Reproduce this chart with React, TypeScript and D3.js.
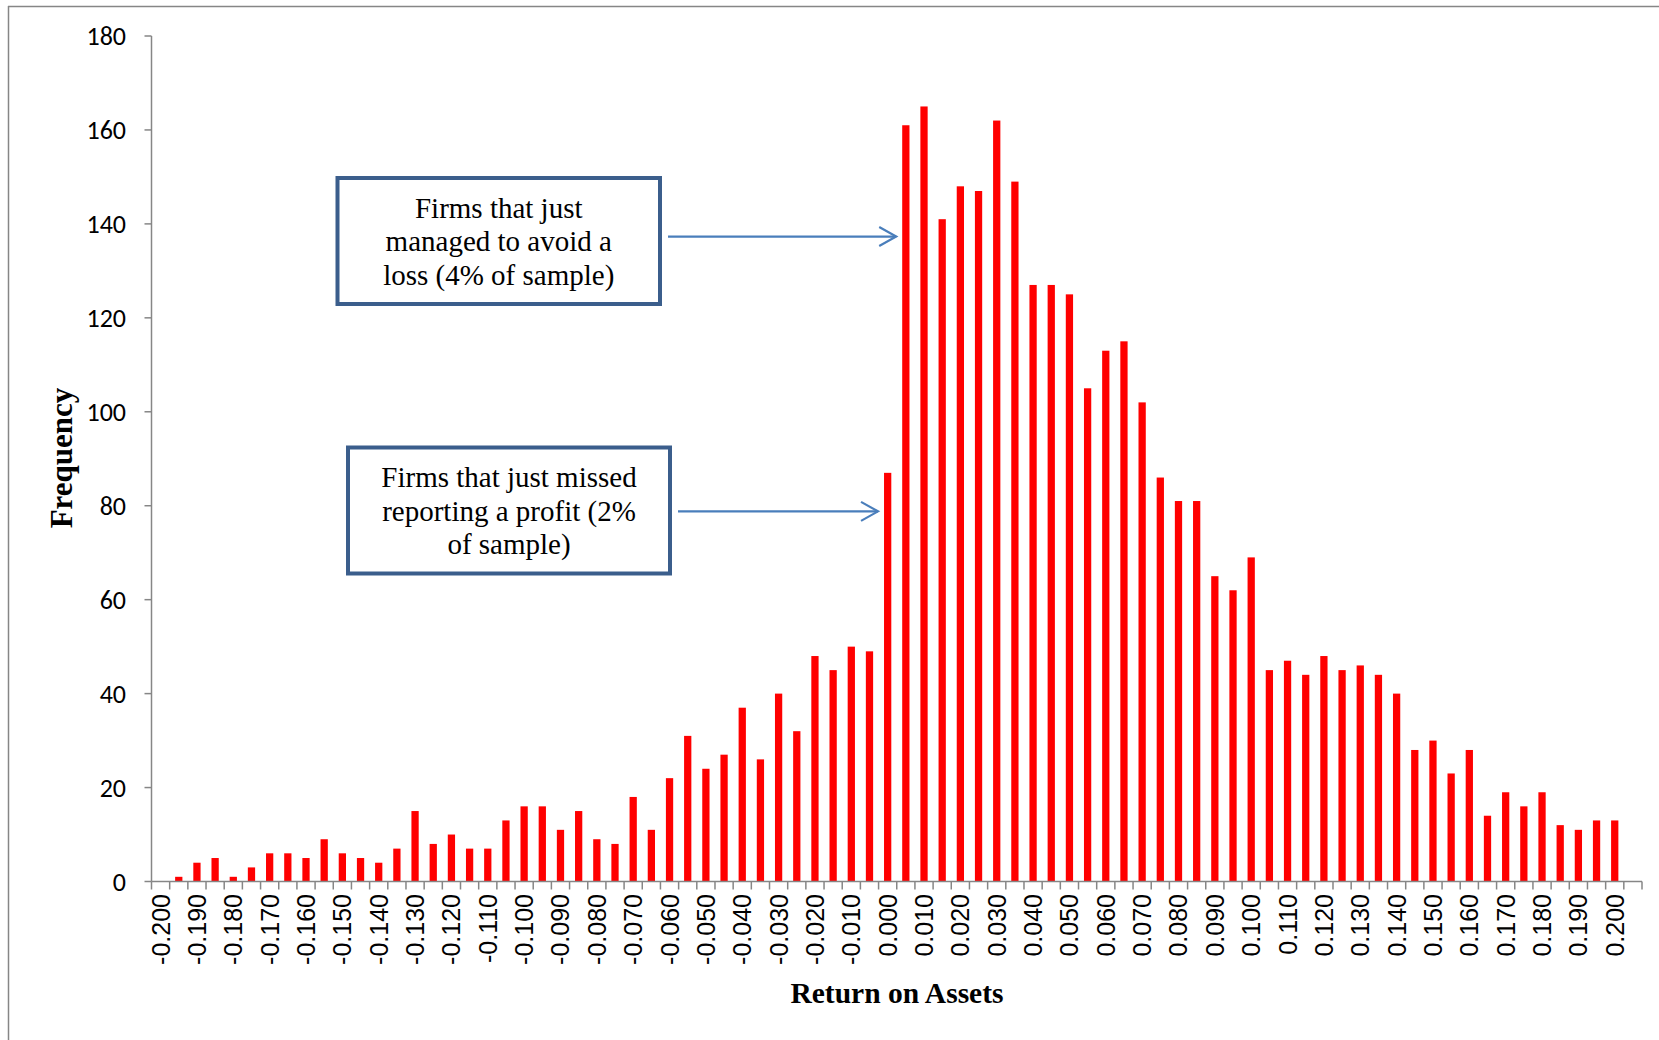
import React from "react";
import * as d3 from "d3";

const bins: string[] = [
  "-0.200","-0.195","-0.190","-0.185","-0.180","-0.175","-0.170","-0.165","-0.160","-0.155",
  "-0.150","-0.145","-0.140","-0.135","-0.130","-0.125","-0.120","-0.115","-0.110","-0.105",
  "-0.100","-0.095","-0.090","-0.085","-0.080","-0.075","-0.070","-0.065","-0.060","-0.055",
  "-0.050","-0.045","-0.040","-0.035","-0.030","-0.025","-0.020","-0.015","-0.010","-0.005",
  "0.000","0.005","0.010","0.015","0.020","0.025","0.030","0.035","0.040","0.045",
  "0.050","0.055","0.060","0.065","0.070","0.075","0.080","0.085","0.090","0.095",
  "0.100","0.105","0.110","0.115","0.120","0.125","0.130","0.135","0.140","0.145",
  "0.150","0.155","0.160","0.165","0.170","0.175","0.180","0.185","0.190","0.195",
  "0.200","More",
];

const frequency: number[] = [
  0, 1, 4, 5, 1, 3, 6, 6, 5, 9,
  6, 5, 4, 7, 15, 8, 10, 7, 7, 13,
  16, 16, 11, 15, 9, 8, 18, 11, 22, 31,
  24, 27, 37, 26, 40, 32, 48, 45, 50, 49,
  87, 161, 165, 141, 148, 147, 162, 149, 127, 127,
  125, 105, 113, 115, 102, 86, 81, 81, 65, 62,
  69, 45, 47, 44, 48, 45, 46, 44, 40, 28,
  30, 23, 28, 14, 19, 16, 19, 12, 11, 13,
  13, 0,
];

const xTickLabels: string[] = [
  "-0.200","-0.190","-0.180","-0.170","-0.160","-0.150","-0.140","-0.130","-0.120","-0.110",
  "-0.100","-0.090","-0.080","-0.070","-0.060","-0.050","-0.040","-0.030","-0.020","-0.010",
  "0.000","0.010","0.020","0.030","0.040","0.050","0.060","0.070","0.080","0.090",
  "0.100","0.110","0.120","0.130","0.140","0.150","0.160","0.170","0.180","0.190","0.200",
];

const yTicks: number[] = [0, 20, 40, 60, 80, 100, 120, 140, 160, 180];

const annotations = [
  { lines: ["Firms that just", "managed to avoid a", "loss (4% of sample)"], target: "0.005", level: 137.3 },
  { lines: ["Firms that just missed", "reporting a profit (2%", "of sample)"], target: "0.000", level: 78.8 },
];

const W = 1659;
const H = 1040;
const AXIS = "#868686";

export default function App() {
  const x = d3.scaleBand<string>().domain(bins).range([151.5, 1642]).paddingInner(0.6).paddingOuter(0.3);
  const y = d3.scaleLinear().domain([0, 180]).range([881.5, 36]);
  const step = x.step();
  const x0 = 151.5;
  const boundaries = d3.range(bins.length + 1).map((k) => x0 + k * step);

  const boxes = [
    { x: 337.5, y: 178, w: 322.5, h: 126 },
    { x: 348, y: 447.5, w: 322, h: 126 },
  ];

  return (
    <svg
      width={W}
      height={H}
      style={{ position: "absolute", left: 0, top: 0, background: "#fff" }}
    >
      <rect x={0} y={0} width={W} height={H} fill="#fff" />
      {/* outer frame */}
      <line x1={8.5} y1={6} x2={8.5} y2={H} stroke={AXIS} strokeWidth={1.5} />
      <line x1={8} y1={6.5} x2={W} y2={6.5} stroke={AXIS} strokeWidth={1.5} />

      {/* bars */}
      {bins.map((b, i) => (
        <rect
          key={b}
          x={x(b)!}
          y={y(frequency[i])}
          width={x.bandwidth()}
          height={y(0) - y(frequency[i])}
          fill="#FF0000"
        />
      ))}

      {/* y axis */}
      <line x1={x0} y1={y(180)} x2={x0} y2={y(0)} stroke={AXIS} strokeWidth={1.5} />
      {yTicks.map((t) => (
        <g key={t}>
          <line x1={x0 - 7} x2={x0} y1={y(t)} y2={y(t)} stroke={AXIS} strokeWidth={1.5} />
          <text
            x={126}
            y={y(t)}
            textAnchor="end"
            dominantBaseline="central"
            fontFamily="Carlito, Calibri, 'Liberation Sans', sans-serif"
            fontSize={26}
            fill="#000"
          >
            {t}
          </text>
        </g>
      ))}

      {/* x axis */}
      <line x1={x0} y1={y(0)} x2={1642} y2={y(0)} stroke={AXIS} strokeWidth={1.5} />
      {boundaries.map((bx, k) => (
        <line key={k} x1={bx} x2={bx} y1={y(0)} y2={y(0) + 8} stroke={AXIS} strokeWidth={1.5} />
      ))}
      {xTickLabels.map((lab) => {
        const cx = x(lab)! + x.bandwidth() / 2;
        return (
          <text
            key={lab}
            transform={`translate(${cx},${894}) rotate(-90)`}
            textAnchor="end"
            dominantBaseline="central"
            fontFamily="'Liberation Sans', Arial, sans-serif"
            fontSize={25}
            fill="#000"
          >
            {lab}
          </text>
        );
      })}

      {/* axis titles */}
      <text
        transform={`translate(61,458) rotate(-90)`}
        textAnchor="middle"
        dominantBaseline="central"
        fontFamily="'Liberation Serif', 'Times New Roman', serif"
        fontWeight="bold"
        fontSize={31}
      >
        Frequency
      </text>
      <text
        x={897}
        y={993}
        textAnchor="middle"
        dominantBaseline="central"
        fontFamily="'Liberation Serif', 'Times New Roman', serif"
        fontWeight="bold"
        fontSize={29.5}
      >
        Return on Assets
      </text>

      {/* annotations */}
      {annotations.map((a, i) => {
        const bx = boxes[i];
        const ay = y(a.level);
        const tip = x(a.target)! - 6;
        const start = bx.x + bx.w + 8;
        const cx = bx.x + bx.w / 2;
        const cy = bx.y + bx.h / 2;
        return (
          <g key={i}>
            <rect x={bx.x} y={bx.y} width={bx.w} height={bx.h} fill="#fff" stroke="#3B5E8C" strokeWidth={4} />
            {a.lines.map((ln, j) => (
              <text
                key={j}
                x={cx}
                y={cy + (j - 1) * 33.5}
                textAnchor="middle"
                dominantBaseline="central"
                fontFamily="'Liberation Serif', 'Times New Roman', serif"
                fontSize={29}
                fill="#000"
              >
                {ln}
              </text>
            ))}
            <line x1={start} y1={ay} x2={tip} y2={ay} stroke="#4A7EBB" strokeWidth={2.2} />
            <path
              d={`M${tip - 17},${ay - 9.5} L${tip},${ay} L${tip - 17},${ay + 9.5}`}
              fill="none"
              stroke="#4A7EBB"
              strokeWidth={2.2}
            />
          </g>
        );
      })}
    </svg>
  );
}
